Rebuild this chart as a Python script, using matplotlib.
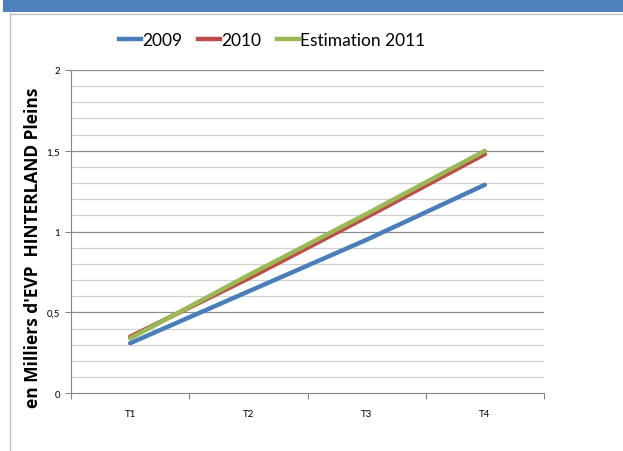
import matplotlib
matplotlib.use("Agg")
import matplotlib.pyplot as plt
from matplotlib.patches import Rectangle
from matplotlib.lines import Line2D
import numpy as np

categories = ["T1", "T2", "T3", "T4"]
series_names = ["2009", "2010", "Estimation 2011"]
v2009 = [0.31, 0.63, 0.95, 1.29]
v2010 = [0.35, 0.71, 1.09, 1.48]
v2011 = [0.34, 0.73, 1.11, 1.50]
colors = ["#4A7EBB", "#BE4B48", "#98B954"]
ytick_vals = [0, 0.5, 1, 1.5, 2]
ytick_labels = ["0", "0,5", "1", "1,5", "2"]

plt.rcParams['font.family'] = ['Lato', 'DejaVu Sans']

W, H = 623, 452
fig = plt.figure(figsize=(W/100, H/100), dpi=100)

# header bar
fig.patches.append(Rectangle((3/W, 1-13/H), 1, 13/H, transform=fig.transFigure,
                             facecolor="#4F81BD", edgecolor="none", zorder=0))
# frame lines
fig.lines.append(Line2D([9.5/W, 9.5/W], [0, 1-14/H], transform=fig.transFigure, color="#BFBFBF", lw=1))
fig.lines.append(Line2D([9.5/W, 1], [1-14.5/H, 1-14.5/H], transform=fig.transFigure, color="#BFBFBF", lw=1))

ax = fig.add_axes([71/W, 1-394.3/H, (544-71)/W, (394.3-71)/H])
x = np.arange(len(categories))
for vals, name, c in zip([v2009, v2010, v2011], series_names, colors):
    ax.plot(x, vals, color=c, lw=3.2, label=name, solid_capstyle='round', zorder=3)

ax.set_xlim(-0.5, len(categories)-0.5)
ax.set_ylim(0, 2)
ax.set_yticks(ytick_vals)
ax.set_yticklabels(ytick_labels, fontsize=7)
ax.set_yticks(np.arange(0, 2.01, 0.1), minor=True)
ax.tick_params(axis='y', which='major', length=4, color="#868686", width=0.8, pad=4, labelcolor="#000000")
ax.tick_params(axis='y', which='minor', length=0)
ax.set_xticks(x)
ax.set_xticklabels(categories, fontsize=7)
ax.set_xticks(np.arange(-0.5, len(categories), 1), minor=True)
ax.tick_params(axis='x', which='major', length=0, pad=11)
ax.tick_params(axis='x', which='minor', length=4, color="#868686", width=0.8)

for yv in np.arange(0.1, 2.01, 0.1):
    major = abs(yv*2 - round(yv*2)) < 1e-6
    ax.axhline(yv, color="#8C8C8C" if major else "#D0D0D0", lw=0.9, zorder=1)

for s in ["top", "right"]:
    ax.spines[s].set_visible(False)
ax.spines["left"].set_color("#868686")
ax.spines["bottom"].set_color("#868686")
ax.spines["left"].set_linewidth(0.8)
ax.spines["bottom"].set_linewidth(0.8)

fig.text(33/W, 1-248/H, "en Milliers d'EVP  HINTERLAND Pleins", rotation=90,
         ha='center', va='center', fontsize=12.5, fontweight='bold',
         family=['Open Sans', 'DejaVu Sans'])

handles = [Line2D([0], [0], color=c, lw=3.2) for c in colors]
fig.legend(handles, series_names, loc='center', bbox_to_anchor=(272/W, 1-41/H),
           ncol=3, frameon=False, fontsize=12.5, handlelength=1.3, handletextpad=0.05,
           columnspacing=0.9, borderpad=0, borderaxespad=0)

fig.savefig("out.png", dpi=100)
